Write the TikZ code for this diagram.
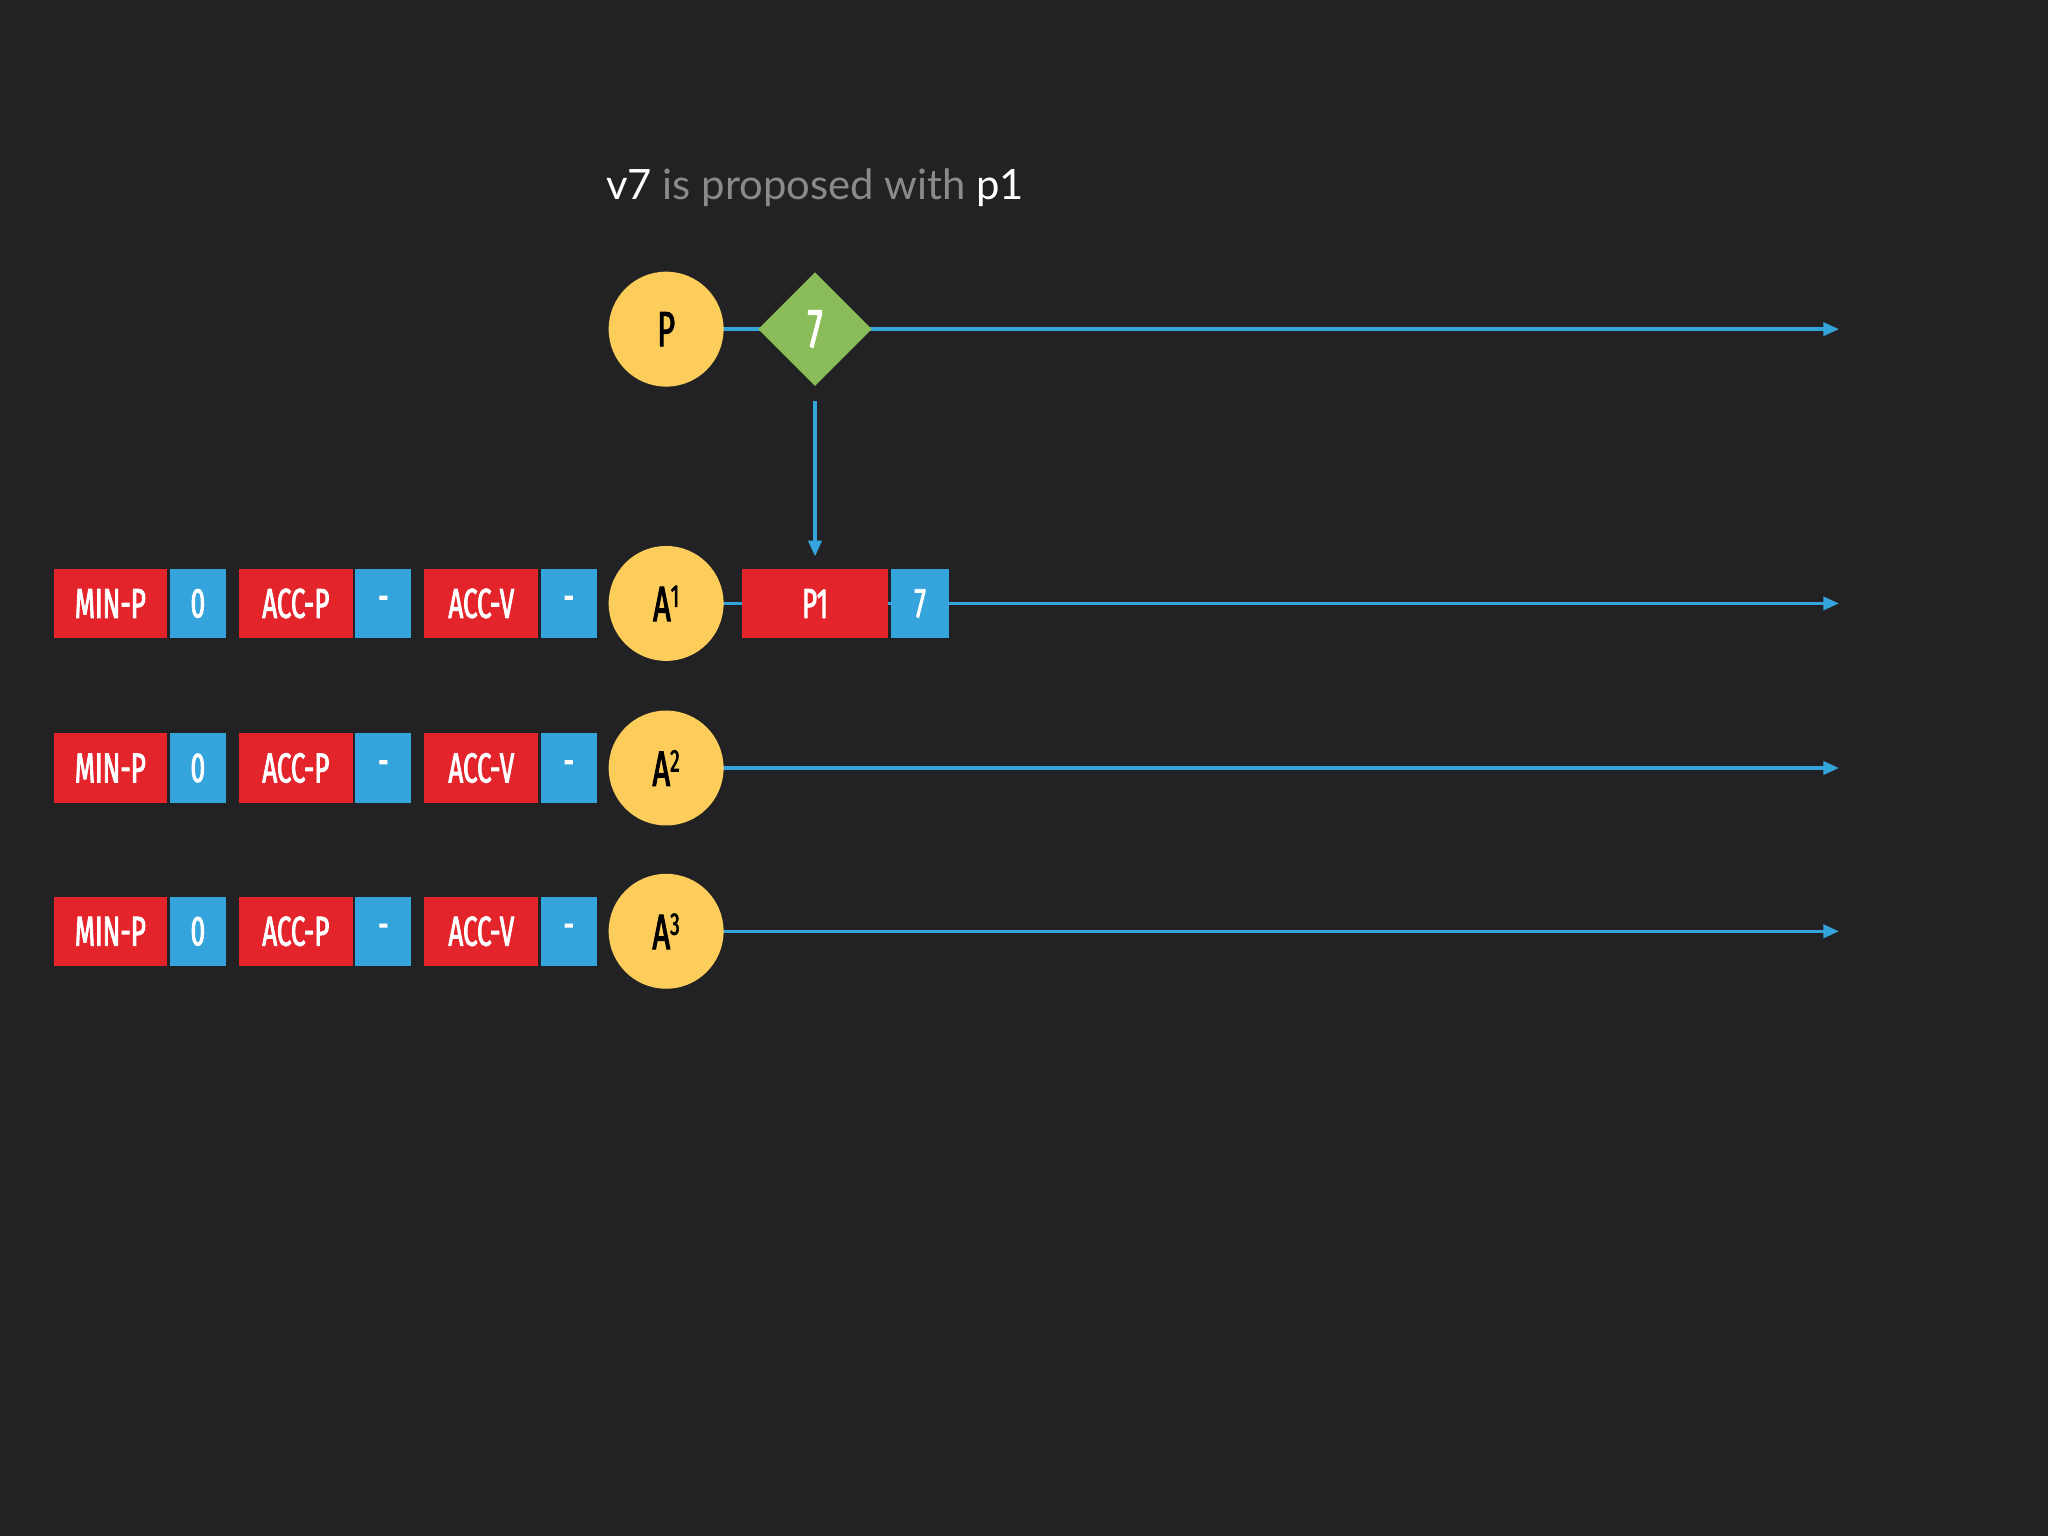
\documentclass[tikz,border=0pt]{standalone}
\usepackage{fontspec}
\setmainfont{Lato}
\newfontfamily\cond[FakeStretch=0.62,FakeBold=2]{Fira Sans}
\usetikzlibrary{shapes.geometric,arrows.meta}
\definecolor{bgc}{HTML}{222224}
\definecolor{redc}{HTML}{E3242B}
\definecolor{bluec}{HTML}{35A4DC}
\definecolor{yelc}{HTML}{FCCD5A}
\definecolor{grnc}{HTML}{8ABD5A}
\definecolor{grayc}{HTML}{8A8A8C}
\begin{document}
\begin{tikzpicture}[x=1pt,y=-1pt,
  lane/.style={draw=bluec,line width=2.6pt,-{Triangle[length=12pt,width=10pt]}},
  agent/.style={circle,fill=yelc,minimum size=88pt,inner sep=0,font=\cond\fontsize{38}{38}\selectfont,text=black},
  rbox/.style={fill=redc,minimum width=87pt,minimum height=53pt,inner sep=0,text=white,font=\cond\fontsize{32}{32}\selectfont},
  bbox/.style={fill=bluec,minimum width=43pt,minimum height=53pt,inner sep=0,text=white,font=\cond\fontsize{32}{32}\selectfont}]
\fill[bgc] (0,0) rectangle (1568,1176);
\node[anchor=base west,font=\fontsize{32}{32}\selectfont,inner sep=0] (title) at (464,153) {\color{white}v7 \color{grayc}is proposed with \color{white}p1};
% proposer
\coordinate (pend) at (1408,252);
\draw[lane] (510,252) -- (pend);
\node[agent] (P) at (510,252) {P};
\node[diamond,fill=grnc,minimum width=87pt,minimum height=87pt,inner sep=0,text=white,font=\cond\fontsize{42}{42}\selectfont] (d7) at (624,252) {7};
\coordinate (arrtop) at (624,307);
\coordinate (arrbot) at (624,426);
\draw[lane] (arrtop) -- (arrbot);
% acceptors
\foreach \i/\y in {1/462,2/588,3/713}{
  \coordinate (e\i) at (1408,\y);
  \draw[lane] (510,\y) -- (e\i);
  \node[rbox] (minp\i) at (84.5,\y) {MIN-P};
  \node[bbox] (minv\i) at (151.5,\y) {0};
  \node[rbox] (accp\i) at (226.5,\y) {ACC-P};
  \node[bbox] (accpv\i) at (293.5,\y) {-};
  \node[rbox] (accv\i) at (368.5,\y) {ACC-V};
  \node[bbox] (accvv\i) at (435.5,\y) {-};
  \node[agent] (A\i) at (510,\y) {A\raisebox{0.55ex}{\fontsize{24}{24}\selectfont\i}};
}
\node[rbox,minimum width=112pt] (p1) at (624,462) {P1};
\node[bbox,minimum width=44pt] (p1v) at (704.5,462) {7};
\end{tikzpicture}
\end{document}
